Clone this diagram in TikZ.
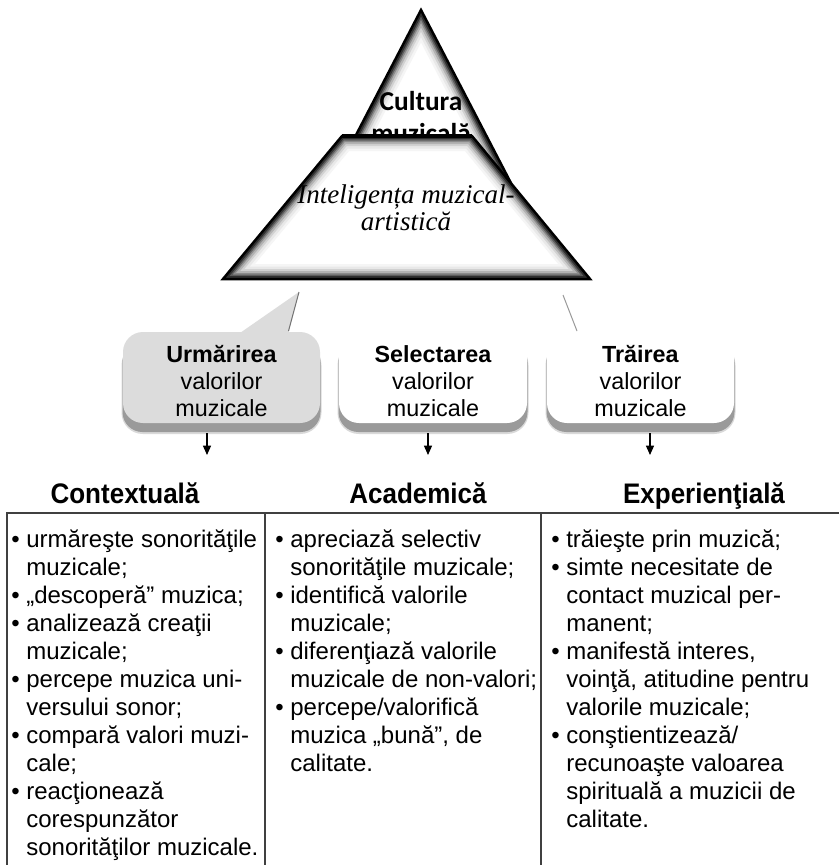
\documentclass[tikz,border=0pt]{standalone}
\usepackage{fontspec}
\setmainfont{Liberation Sans}
\newfontfamily\calibrifont{Carlito}
\newfontfamily\timesfont{Liberation Serif}
\newfontfamily\headfont[FakeStretch=0.92]{Liberation Sans}
\usetikzlibrary{arrows.meta}

\definecolor{boxgray}{HTML}{DCDCDC}
\definecolor{shadowgray}{HTML}{9A9A9A}

\newcommand\colbul{•\ }
\newcommand\colind{\hphantom{•\ }}

% multi-line nodes below are placed by the baseline of their last line
\tikzset{
  px/.style={line width=#1*0.75pt},
  tri/.style={insert path={(apex) -- (triR) -- (triL) -- cycle}},
  trap/.style={insert path={(trTL) -- (trTR) -- (trBR) -- (trBL) -- cycle}},
  callbox/.style={rectangle, rounded corners=15pt, inner sep=0pt,
    minimum width=#1*0.75pt, minimum height=91*0.75pt},
  boxtext/.style={anchor=base, align=center, inner sep=0pt,
    font=\fontsize{17.5}{20.25}\selectfont},
  headtext/.style={anchor=base, inner sep=0pt,
    font=\headfont\bfseries\fontsize{21.2}{24}\selectfont},
  coltext/.style={anchor=base west, align=left, inner sep=0pt,
    font=\fontsize{18}{21}\selectfont},
  tableline/.style={draw=black!75, px=1.4},
  downarrow/.style={draw=black, px=1.2, -{Triangle[width=6pt,length=7pt]}},
}

\begin{document}
\begin{tikzpicture}[x=0.75pt,y=-0.75pt]
\useasboundingbox (0,0) rectangle (839,865);
\fill[white] (0,0) rectangle (839,865);

% ---------- pyramid ----------
\coordinate (apex) at (421,10);
\coordinate (triL) at (331.6,182);
\coordinate (triR) at (510.4,182);
\coordinate (trTL) at (342,136);
\coordinate (trTR) at (472,136);
\coordinate (trBR) at (590,279);
\coordinate (trBL) at (223,279);

% upper triangle with inner glow
\fill[white, tri];
\begin{scope}
  \clip[tri];
  \foreach \w/\c in {30/4, 25/9, 20/18, 16/30, 12/46, 9/64, 6/82}
    \draw[px=\w, black!\c, line join=round, tri];
\end{scope}
\draw[px=2.5, line join=miter, tri];

\node[font=\calibrifont\bfseries\fontsize{20.5}{24}\selectfont,
      align=center, anchor=base, inner sep=0pt] (cult) at (421,142)
      {Cultura\\muzicală};

% trapezoid with inner glow
\fill[white, trap];
\begin{scope}
  \clip[trap];
  \foreach \w/\c in {30/4, 25/9, 20/18, 16/30, 12/46, 9/64, 6/82}
    \draw[px=\w, black!\c, line join=round, trap];
\end{scope}
\draw[px=2.5, line join=miter, trap];
\draw[px=3.5] (trTL) -- (trTR);

\node[font=\timesfont\itshape\fontsize{20.3}{20.25}\selectfont,
      align=center, anchor=base, inner sep=0pt] (intel) at (406,230)
      {Inteligența muzical-\\artistică};

% ---------- callouts ----------
% soft shadows under the boxes
\foreach \xa/\xb in {123/320, 339/527, 547/734}{
  \fill[black!15, rounded corners=16pt] (\xa-1.5,344) rectangle (\xb+1.5,434);
  \fill[shadowgray, rounded corners=15pt] (\xa-0.5,342) rectangle (\xb+0.5,432);
}

\node[callbox=197, fill=boxgray] (b1) at (221.5,377.5) {};
\node[callbox=188, fill=white]   (b2) at (433,377.5) {};
\node[callbox=187, fill=white]   (b3) at (640.5,377.5) {};

% pointers
\coordinate (p1tip) at (299,292);
\coordinate (p1a) at (240,333);
\coordinate (p1b) at (288.5,333);
\fill[boxgray] (p1a) -- (p1tip) -- (p1b) -- cycle;
\draw[black!55, px=1] (p1tip) -- (288.5,331);
\coordinate (p3tip) at (563,295);
\coordinate (p3b) at (577,331);
\draw[black!40, px=1] (p3tip) -- (p3b);

\node[boxtext] (t1) at (221.5,416) {\textbf{Urmărirea}\\valorilor\\muzicale};
\node[boxtext] (t2) at (433,416)   {\textbf{Selectarea}\\valorilor\\muzicale};
\node[boxtext] (t3) at (640.5,416) {\textbf{Trăirea}\\valorilor\\muzicale};

% ---------- arrows ----------
\coordinate (a1s) at (207,433);  \coordinate (a1e) at (207,455);
\coordinate (a2s) at (428,433);  \coordinate (a2e) at (428,455);
\coordinate (a3s) at (650,433);  \coordinate (a3e) at (650,455);
\draw[downarrow] (a1s) -- (a1e);
\draw[downarrow] (a2s) -- (a2e);
\draw[downarrow] (a3s) -- (a3e);

% ---------- headings ----------
\node[headtext] (h1) at (125,503) {Contextuală};
\node[headtext] (h2) at (418,503) {Academică};
\node[headtext] (h3) at (704,503) {Experienţială};

% ---------- table ----------
\coordinate (tabTL) at (7,513);
\coordinate (tabBR) at (850,880);
\draw[tableline] (tabTL) rectangle (tabBR);
\draw[tableline] (265,513) -- (265,880);
\draw[tableline] (541,513) -- (541,880);

\node[coltext] (c1) at (11,855) {%
\colbul urmăreşte sonorităţile\\
\colind muzicale;\\
\colbul „descoperă” muzica;\\
\colbul analizează creaţii\\
\colind muzicale;\\
\colbul percepe muzica uni-\\
\colind versului sonor;\\
\colbul compară valori muzi-\\
\colind cale;\\
\colbul reacţionează\\
\colind corespunzător\\
\colind sonorităţilor muzicale.};

\node[coltext] (c2) at (275,771) {%
\colbul apreciază selectiv\\
\colind sonorităţile muzicale;\\
\colbul identifică valorile\\
\colind muzicale;\\
\colbul diferenţiază valorile\\
\colind muzicale de non-valori;\\
\colbul percepe/valorifică\\
\colind muzica „bună”, de\\
\colind calitate.};

\node[coltext] (c3) at (551,827) {%
\colbul trăieşte prin muzică;\\
\colbul simte necesitate de\\
\colind contact muzical per-\\
\colind manent;\\
\colbul manifestă interes,\\
\colind voinţă, atitudine pentru\\
\colind valorile muzicale;\\
\colbul conştientizează/\\
\colind recunoaşte valoarea\\
\colind spirituală a muzicii de\\
\colind calitate.};

\end{tikzpicture}
\end{document}
